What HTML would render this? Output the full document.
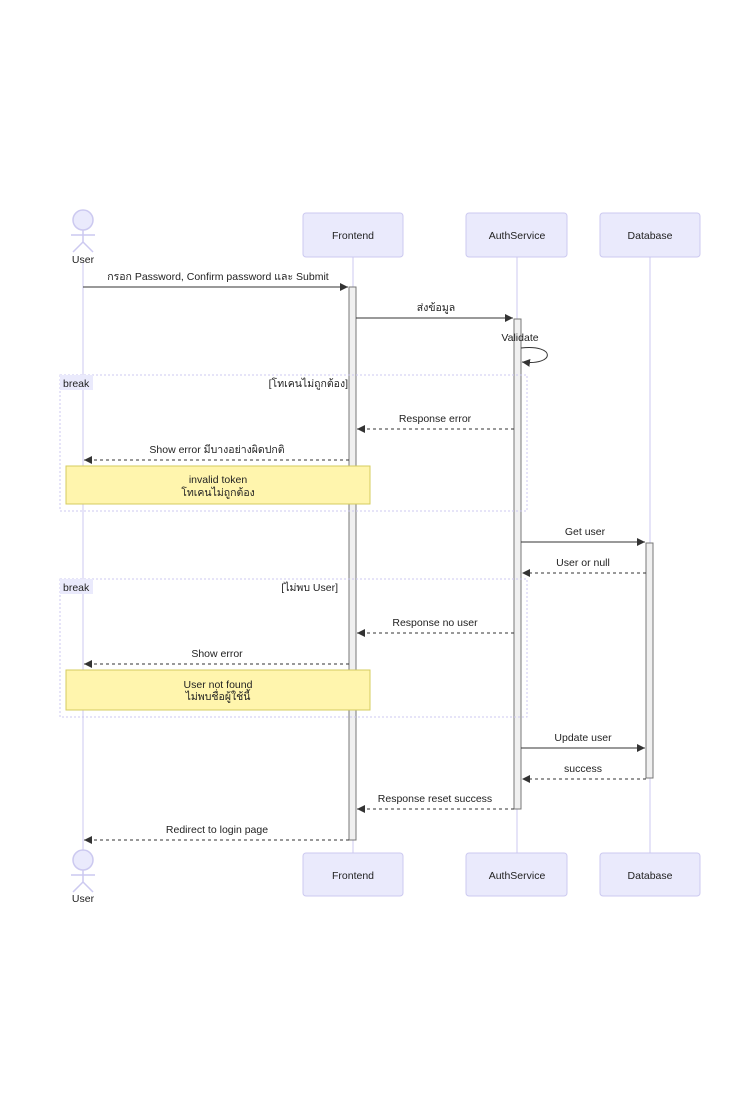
<!DOCTYPE html>
<html><head><meta charset="utf-8"><style>
body{margin:0;background:#fff;}
text{font-family:"Liberation Sans","DejaVu Sans",sans-serif;font-size:10.5px;fill:#222;}
</style></head><body>
<svg width="733" height="1111" viewBox="0 0 733 1111" xmlns="http://www.w3.org/2000/svg">
<defs>
<marker id="a" markerWidth="9" markerHeight="9" refX="8" refY="4" orient="auto" markerUnits="userSpaceOnUse"><path d="M0,0 L8,4 L0,8 z" fill="#333"/></marker>
</defs>
<g stroke="#ccc9f0" stroke-width="1">
<line x1="83" y1="262" x2="83" y2="850"/>
<line x1="353" y1="257" x2="353" y2="853"/>
<line x1="517" y1="257" x2="517" y2="853"/>
<line x1="650" y1="257" x2="650" y2="853"/>
</g>
<g fill="#eaeafc" stroke="#ccc9f0">
<rect x="303" y="213" width="100" height="44" rx="3"/>
<rect x="466" y="213" width="101" height="44" rx="3"/>
<rect x="600" y="213" width="100" height="44" rx="3"/>
<rect x="303" y="853" width="100" height="43" rx="3"/>
<rect x="466" y="853" width="101" height="43" rx="3"/>
<rect x="600" y="853" width="100" height="43" rx="3"/>
</g>
<g text-anchor="middle">
<text x="353" y="239">Frontend</text><text x="517" y="239">AuthService</text><text x="650" y="239">Database</text>
<text x="353" y="879">Frontend</text><text x="517" y="879">AuthService</text><text x="650" y="879">Database</text>
</g>
<g fill="#eaeafc" stroke="#ccc9f0" stroke-width="1.5">
<circle cx="83" cy="220" r="10"/>
<line x1="83" y1="230" x2="83" y2="242"/><line x1="71" y1="235" x2="95" y2="235"/>
<line x1="83" y1="242" x2="73" y2="252"/><line x1="83" y1="242" x2="93" y2="252"/>
<circle cx="83" cy="860" r="10"/>
<line x1="83" y1="870" x2="83" y2="882"/><line x1="71" y1="875" x2="95" y2="875"/>
<line x1="83" y1="882" x2="73" y2="892"/><line x1="83" y1="882" x2="93" y2="892"/>
</g>
<text x="83" y="263" text-anchor="middle">User</text>
<text x="83" y="902" text-anchor="middle">User</text>
<g fill="#f0f0f0" stroke="#777">
<rect x="349" y="287" width="7" height="553"/>
<rect x="514" y="319" width="7" height="490"/>
<rect x="646" y="543" width="7" height="235"/>
</g>
<g fill="none" stroke="#ccc9f0" stroke-dasharray="2,2">
<rect x="60" y="375" width="467" height="136"/>
<rect x="60" y="579" width="467" height="138"/>
</g>
<rect x="60" y="375" width="33" height="15" fill="#eaeafc"/>
<rect x="60" y="579" width="33" height="15" fill="#eaeafc"/>
<text x="63" y="387" fill="#000">break</text><text x="63" y="591" fill="#000">break</text>
<text x="348" y="387" text-anchor="end" fill="#000">[โทเคนไม่ถูกต้อง]</text>
<text x="338" y="591" text-anchor="end" fill="#000">[ไม่พบ User]</text>
<g fill="#fff5ad" stroke="#d6cc5e">
<rect x="66" y="466" width="304" height="38"/>
<rect x="66" y="670" width="304" height="40"/>
</g>
<g text-anchor="middle" fill="#000">
<text x="218" y="483">invalid token</text><text x="218" y="496">โทเคนไม่ถูกต้อง</text>
<text x="218" y="688">User not found</text><text x="218" y="700">ไม่พบชื่อผู้ใช้นี้</text>
</g>
<g stroke="#333" stroke-width="1" marker-end="url(#a)">
<line x1="83" y1="287" x2="348" y2="287"/>
<line x1="356" y1="318" x2="513" y2="318"/>
<path d="M521,348 C556,344 556,366 522,362" fill="none"/>
<line x1="514" y1="429" x2="357" y2="429" stroke-dasharray="3,3"/>
<line x1="349" y1="460" x2="84" y2="460" stroke-dasharray="3,3"/>
<line x1="521" y1="542" x2="645" y2="542"/>
<line x1="646" y1="573" x2="522" y2="573" stroke-dasharray="3,3"/>
<line x1="514" y1="633" x2="357" y2="633" stroke-dasharray="3,3"/>
<line x1="349" y1="664" x2="84" y2="664" stroke-dasharray="3,3"/>
<line x1="521" y1="748" x2="645" y2="748"/>
<line x1="646" y1="779" x2="522" y2="779" stroke-dasharray="3,3"/>
<line x1="514" y1="809" x2="357" y2="809" stroke-dasharray="3,3"/>
<line x1="349" y1="840" x2="84" y2="840" stroke-dasharray="3,3"/>
</g>
<g text-anchor="middle">
<text x="218" y="280">กรอก Password, Confirm password และ Submit</text>
<text x="436" y="311">ส่งข้อมูล</text>
<text x="520" y="341">Validate</text>
<text x="435" y="422">Response error</text>
<text x="217" y="453">Show error มีบางอย่างผิดปกติ</text>
<text x="585" y="535">Get user</text>
<text x="583" y="566">User or null</text>
<text x="435" y="626">Response no user</text>
<text x="217" y="657">Show error</text>
<text x="583" y="741">Update user</text>
<text x="583" y="772">success</text>
<text x="435" y="802">Response reset success</text>
<text x="217" y="833">Redirect to login page</text>
</g>
</svg>
</body></html>
